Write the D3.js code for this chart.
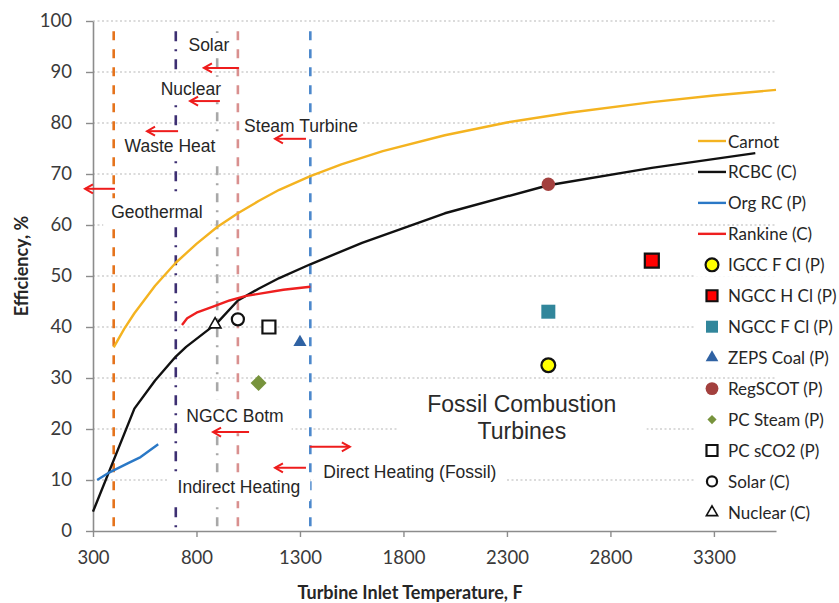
<!DOCTYPE html>
<html>
<head>
<meta charset="utf-8">
<script src="https://cdn.jsdelivr.net/npm/d3@7"></script>
<style>
  html, body { margin: 0; padding: 0; background: #fff; }
  svg { display: block; }
</style>
</head>
<body>
<svg id="chart" width="839" height="603"></svg>
<script>
// ---- Curves: turbine inlet temperature (F) vs efficiency (%) ----
const carnotTemp = [400, 450, 500, 600, 700, 800, 900, 1000, 1100, 1200, 1350, 1500, 1700, 2000, 2300, 2600, 3000, 3300, 3600];
const carnotEff  = [36.0, 39.6, 42.7, 48.1, 52.6, 56.3, 59.6, 62.3, 64.7, 66.9, 69.6, 71.9, 74.5, 77.6, 80.1, 82.0, 84.1, 85.4, 86.5];

const rcbcTemp = [300, 500, 600, 700, 750, 900, 1000, 1100, 1200, 1350, 1600, 2000, 2500, 3000, 3500];
const rcbcEff  = [3.8, 24.0, 29.5, 34.2, 36.1, 40.8, 45.2, 47.5, 49.6, 52.3, 56.5, 62.3, 67.8, 71.2, 74.1];

const orgRcTemp = [320, 380, 470, 530, 615];
const orgRcEff  = [10.0, 11.5, 13.3, 14.5, 17.0];

const rankineTemp = [730, 755, 800, 880, 960, 1040, 1220, 1350];
const rankineEff  = [40.4, 41.7, 42.8, 44.0, 45.2, 46.1, 47.3, 47.9];

// ---- Individual plants / concepts ----
const pointNames = ["IGCC F Cl (P)", "NGCC H Cl (P)", "NGCC F Cl (P)", "ZEPS Coal (P)", "RegSCOT (P)",
                    "PC Steam (P)", "PC sCO2 (P)", "Solar (C)", "Nuclear (C)"];
const pointTemp  = [2500, 3000, 2500, 1300, 2500, 1100, 1150, 1000, 890];
const pointEff   = [32.5, 53.0, 43.0, 37.0, 68.0, 29.0, 40.0, 41.5, 40.5];

const lineNames = ["Carnot", "RCBC (C)", "Org RC (P)", "Rankine (C)"];

// ---- Heat-source temperature limits (F) ----
const limitTemp = [400, 700, 900, 1000, 1350];

// ---- Axis ticks ----
const xTicks = [300, 800, 1300, 1800, 2300, 2800, 3300];
const yTicks = [0, 10, 20, 30, 40, 50, 60, 70, 80, 90, 100];

// ---- Annotations (text and arrows) ----
const noteText = ["Solar", "Nuclear", "Waste Heat", "Steam Turbine", "Geothermal", "NGCC Botm",
                  "Indirect Heating", "Direct Heating (Fossil)"];
const noteTemp = [860, 773, 672, 1305, 609, 986, 1005, 1831];
const noteEff  = [95.3, 86.7, 75.5, 79.4, 62.5, 22.5, 8.6, 11.6];

const arrowFrom = [1005, 913, 711, 1329, 406, 1054, 1329, 1348];
const arrowTo   = [836, 769, 561, 1179, 261, 880, 1179, 1541];
const arrowEff  = [90.8, 84.3, 78.4, 76.9, 67.1, 19.4, 12.4, 16.5];

const fossilLines = ["Fossil Combustion", "Turbines"];
const fossilTemp = 2372;
const fossilEff = [24.9, 19.6];

// ---------------------------------------------------------------
const svg = d3.select("#chart");
const x = d3.scaleLinear().domain([300, 3600]).range([93, 776]);
const y = d3.scaleLinear().domain([0, 100]).range([531, 21]);

const tickFont = "Lato, 'Noto Sans', sans-serif";
const noteFont = "'Liberation Sans', Arial, sans-serif";

const lineStyle = {
  "Carnot":      { color: "#f4b320", width: 2.4 },
  "RCBC (C)":    { color: "#111111", width: 2.4 },
  "Org RC (P)":  { color: "#2a78c6", width: 2.4 },
  "Rankine (C)": { color: "#ee1f1f", width: 2.4 }
};
const pointStyle = {
  "IGCC F Cl (P)": { shape: d3.symbolCircle,   size: 150, legend: 130, fill: "#ffff00", stroke: "#111", sw: 2.2 },
  "NGCC H Cl (P)": { shape: d3.symbolSquare,   size: 196, legend: 121, fill: "#ff0000", stroke: "#111", sw: 2.2 },
  "NGCC F Cl (P)": { shape: d3.symbolSquare,   size: 196, legend: 144, fill: "#31869b", stroke: "none", sw: 0 },
  "ZEPS Coal (P)": { shape: d3.symbolTriangle, size: 75,  legend: 70,  fill: "#2f62a3", stroke: "none", sw: 0 },
  "RegSCOT (P)":   { shape: d3.symbolCircle,   size: 140, legend: 130, fill: "#a3403e", stroke: "none", sw: 0 },
  "PC Steam (P)":  { shape: d3.symbolSquare,   size: 128, legend: 42,  fill: "#77933c", stroke: "none", sw: 0, rot: 45 },
  "PC sCO2 (P)":   { shape: d3.symbolSquare,   size: 169, legend: 121, fill: "#ffffff", stroke: "#111", sw: 2.2 },
  "Solar (C)":     { shape: d3.symbolCircle,   size: 115, legend: 80,  fill: "#ffffff", stroke: "#111", sw: 2.2 },
  "Nuclear (C)":   { shape: d3.symbolTriangle, size: 60,  legend: 55,  fill: "#ffffff", stroke: "#111", sw: 1.6 }
};
const limitStyle = [
  { color: "#e5731c", dash: "9,9" },
  { color: "#3d2f72", dash: "10,8,2,8" },
  { color: "#a8a8a8", dash: "9,8,2,8" },
  { color: "#d9908f", dash: "9,9" },
  { color: "#4c88cc", dash: "9,9" }
];
const notePad = [[3, 2], [3, 2], [6, 3], [3, 3], [8, 4], [8, 7], [10, 4], [10, 4]];

// Gridlines
svg.append("g").selectAll("line").data(yTicks.filter(d => d > 0)).join("line")
  .attr("x1", x(300)).attr("x2", x(3600))
  .attr("y1", d => y(d)).attr("y2", d => y(d))
  .attr("stroke", "#b8b8b8").attr("stroke-width", 1.2).attr("stroke-dasharray", "2,2.5");

// Legend row backgrounds (they mask gridlines behind the entries)
const legX = 698, legY0 = 141, legStep = 30.95;
const legendNames = lineNames.concat(pointNames);
svg.append("g").selectAll("rect").data(legendNames).join("rect")
  .attr("x", legX - 2).attr("y", (d, i) => legY0 + i * legStep - 7)
  .attr("width", 120).attr("height", 19).attr("fill", "#fff");

// Axes
const yAxis = svg.append("g").attr("transform", `translate(${x(300)},0)`)
  .call(d3.axisLeft(y).tickValues(yTicks).tickSize(7).tickSizeOuter(0).tickPadding(14));
const xAxis = svg.append("g").attr("transform", `translate(0,${y(0)})`)
  .call(d3.axisBottom(x).tickValues(xTicks).tickFormat(d3.format("d")).tickSize(6).tickSizeOuter(0));
[xAxis, yAxis].forEach(g => {
  g.select(".domain").attr("stroke", "#8c8c8c").attr("stroke-width", 1.6);
  g.selectAll(".tick line").attr("stroke", "#8c8c8c").attr("stroke-width", 1.4);
  g.selectAll(".tick text").attr("fill", "#3a3a3a").style("font-family", tickFont).style("font-size", "18.5px");
});
xAxis.selectAll(".tick text").attr("y", 33).attr("dy", 0);

// Axis titles
svg.append("text").attr("x", 410).attr("y", 599).attr("text-anchor", "middle")
  .style("font-family", tickFont).style("font-size", "18px").style("font-weight", "bold")
  .attr("fill", "#262626").text("Turbine Inlet Temperature, F");
svg.append("text").attr("transform", "translate(28,266) rotate(-90)").attr("text-anchor", "middle")
  .style("font-family", tickFont).style("font-size", "18px").style("font-weight", "bold")
  .attr("fill", "#262626").text("Efficiency, %");

// Heat-source limit lines
svg.append("g").selectAll("line").data(limitTemp).join("line")
  .attr("x1", d => x(d)).attr("x2", d => x(d))
  .attr("y1", y(98)).attr("y2", y(0))
  .attr("stroke", (d, i) => limitStyle[i].color)
  .attr("stroke-width", 2.6)
  .attr("stroke-dasharray", (d, i) => limitStyle[i].dash);

// Annotation labels on white boxes
const notes = svg.append("g");
noteText.forEach((t, i) => {
  const g = notes.append("g");
  const txt = g.append("text").attr("x", x(noteTemp[i])).attr("y", y(noteEff[i]))
    .attr("text-anchor", "middle").attr("dominant-baseline", "central")
    .style("font-family", noteFont).style("font-size", "17.5px").attr("fill", "#262626").text(t);
  const b = txt.node().getBBox();
  g.insert("rect", "text").attr("x", b.x - notePad[i][0]).attr("y", b.y - notePad[i][1])
    .attr("width", b.width + 2 * notePad[i][0]).attr("height", b.height + 2 * notePad[i][1]).attr("fill", "#fff");
});
{
  const g = notes.append("g");
  fossilLines.forEach((t, i) => {
    g.append("text").attr("x", x(fossilTemp)).attr("y", y(fossilEff[i]))
      .attr("text-anchor", "middle").attr("dominant-baseline", "central")
      .style("font-family", noteFont).style("font-size", "23px").attr("fill", "#2a2a2a").text(t);
  });
  const b = g.node().getBBox();
  g.insert("rect", "text").attr("x", b.x - 30).attr("y", b.y - 4)
    .attr("width", b.width + 60).attr("height", b.height + 10).attr("fill", "#fff");
}

// Red arrows
svg.append("defs").append("marker").attr("id", "head")
  .attr("viewBox", "-1 -6 11 12").attr("refX", 8).attr("refY", 0)
  .attr("markerWidth", 11).attr("markerHeight", 12).attr("markerUnits", "userSpaceOnUse")
  .attr("orient", "auto")
  .append("path").attr("d", "M0,-4.5L8,0L0,4.5").attr("fill", "none")
  .attr("stroke", "#ee1c1c").attr("stroke-width", 2);
svg.append("g").selectAll("line").data(arrowFrom).join("line")
  .attr("x1", d => x(d)).attr("x2", (d, i) => x(arrowTo[i]))
  .attr("y1", (d, i) => y(arrowEff[i])).attr("y2", (d, i) => y(arrowEff[i]))
  .attr("stroke", "#ee1c1c").attr("stroke-width", 2).attr("marker-end", "url(#head)");

// Curves
const curves = [
  [carnotTemp, carnotEff], [rcbcTemp, rcbcEff], [orgRcTemp, orgRcEff], [rankineTemp, rankineEff]
];
const lineGen = d3.line().x(d => x(d[0])).y(d => y(d[1]));
curves.forEach(([ts, vs], i) => {
  const st = lineStyle[lineNames[i]];
  svg.append("path").datum(d3.zip(ts, vs)).attr("d", lineGen)
    .attr("fill", "none").attr("stroke", st.color).attr("stroke-width", st.width)
    .attr("stroke-linejoin", "round");
});

// Point markers
svg.append("g").selectAll("path").data(pointNames).join("path")
  .attr("transform", (d, i) => `translate(${x(pointTemp[i])},${y(pointEff[i])}) rotate(${pointStyle[d].rot || 0})`)
  .attr("d", d => d3.symbol(pointStyle[d].shape, pointStyle[d].size)())
  .attr("fill", d => pointStyle[d].fill).attr("stroke", d => pointStyle[d].stroke)
  .attr("stroke-width", d => pointStyle[d].sw);

// Legend
const leg = svg.append("g");
legendNames.forEach((name, i) => {
  const cy = legY0 + i * legStep;
  if (lineStyle[name]) {
    leg.append("line").attr("x1", legX).attr("x2", legX + 28).attr("y1", cy).attr("y2", cy)
      .attr("stroke", lineStyle[name].color).attr("stroke-width", 2.4);
  } else {
    const st = pointStyle[name];
    leg.append("path").attr("transform", `translate(${legX + 14},${cy}) rotate(${st.rot || 0})`)
      .attr("d", d3.symbol(st.shape, st.legend)())
      .attr("fill", st.fill).attr("stroke", st.stroke).attr("stroke-width", st.sw);
  }
  leg.append("text").attr("x", legX + 30).attr("y", cy).attr("dominant-baseline", "central")
    .style("font-family", tickFont).style("font-size", "17px").attr("fill", "#262626").text(name);
});
</script>
</body>
</html>
